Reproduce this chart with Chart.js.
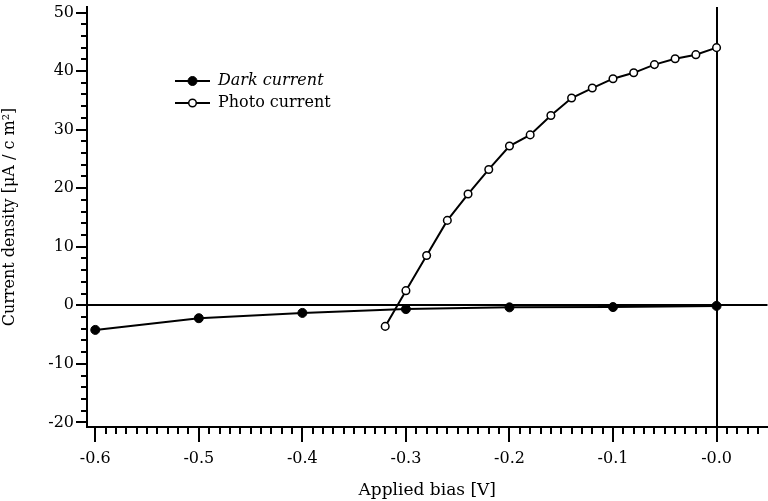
<!DOCTYPE html>
<html>
<head>
<meta charset="utf-8">
<script src="https://cdn.jsdelivr.net/npm/chart.js@4"></script>
<style>
  html, body { margin: 0; padding: 0; background: #fff; overflow: hidden; }
  #wrap { width: 768px; height: 501px; overflow: hidden; }
  canvas { display: block; }
</style>
</head>
<body>
<!-- canvas is 5px wider than the view: Chart.js keeps a small gap at the right,
     the original plot runs off the edge -->
<div id="wrap"><canvas id="ivChart" width="773" height="501"></canvas></div>
<script>
// Dark current, measured every 0.1 V
const darkBias = [-0.6, -0.5, -0.4, -0.3, -0.2, -0.1, 0.0];
const darkCurrent = [-4.2, -2.2, -1.3, -0.65, -0.35, -0.3, -0.1];

// Photo current, measured every 0.02 V
const photoBias = [-0.32, -0.30, -0.28, -0.26, -0.24, -0.22, -0.20, -0.18, -0.16,
                   -0.14, -0.12, -0.10, -0.08, -0.06, -0.04, -0.02, 0.0];
const photoCurrent = [-3.6, 2.5, 8.5, 14.5, 19.0, 23.2, 27.2, 29.1, 32.4,
                      35.4, 37.1, 38.7, 39.7, 41.1, 42.1, 42.8, 44.0];

const seriesNames = ['Dark current', 'Photo current'];

const FONT = '"DejaVu Serif", "Liberation Serif", serif';

function toPoints(xs, ys) {
    return xs.map((x, i) => ({ x: x, y: ys[i] }));
}

function isMajor(v, step) {
    const r = v / step;
    return Math.abs(r - Math.round(r)) < 1e-6;
}

// no extra room for edge labels
function noEdgePadding(s) {
    s.paddingLeft = 0;
    s.paddingRight = 0;
    s.paddingTop = 0;
    s.paddingBottom = 0;
}

// minor + major tick marks pointing outward from the axes
const tickMarks = {
    id: 'tickMarks',
    afterDraw(chart) {
        const ctx = chart.ctx;
        const xs = chart.scales.x, ys = chart.scales.y;
        ctx.save();
        ctx.strokeStyle = '#000';
        ctx.lineWidth = 2;
        ctx.beginPath();
        xs.ticks.forEach(t => {
            const px = Math.round(xs.getPixelForValue(t.value));
            const len = isMajor(t.value, 0.1) ? 15 : 7;
            ctx.moveTo(px, xs.top);
            ctx.lineTo(px, xs.top + len);
        });
        ys.ticks.forEach(t => {
            const py = Math.round(ys.getPixelForValue(t.value));
            const len = isMajor(t.value, 10) ? 11 : 6;
            ctx.moveTo(ys.right, py);
            ctx.lineTo(ys.right - len, py);
        });
        ctx.stroke();
        ctx.restore();
    }
};

// legend drawn inside the plot: line segment + marker + name
const insideLegend = {
    id: 'insideLegend',
    afterDatasetsDraw(chart) {
        const ctx = chart.ctx;
        const area = chart.chartArea;
        const x0 = area.left + 88;
        const y0 = area.top + 74;
        ctx.save();
        chart.data.datasets.forEach((ds, i) => {
            const y = y0 + i * 22;
            ctx.strokeStyle = '#000';
            ctx.lineWidth = 2;
            ctx.beginPath();
            ctx.moveTo(x0, y);
            ctx.lineTo(x0 + 35, y);
            ctx.stroke();
            ctx.beginPath();
            ctx.arc(x0 + 17.5, y, ds.pointRadius, 0, Math.PI * 2);
            ctx.fillStyle = ds.pointBackgroundColor;
            ctx.fill();
            ctx.lineWidth = ds.pointBorderWidth;
            ctx.stroke();
            ctx.fillStyle = '#000';
            ctx.font = (i === 0 ? 'italic ' : '') + '16px ' + FONT;
            ctx.textBaseline = 'middle';
            ctx.fillText(ds.label, x0 + 43, y);
        });
        ctx.restore();
    }
};

const zeroLine = ctx => (ctx.tick && Math.abs(ctx.tick.value) < 1e-9) ? '#000' : 'rgba(0,0,0,0)';

new Chart(document.getElementById('ivChart').getContext('2d'), {
    type: 'scatter',
    data: {
        datasets: [{
            label: seriesNames[0],
            data: toPoints(darkBias, darkCurrent),
            showLine: true,
            borderColor: '#000',
            borderWidth: 2,
            pointRadius: 4.5,
            pointBackgroundColor: '#000',
            pointBorderColor: '#000',
            pointBorderWidth: 1,
            tension: 0
        }, {
            label: seriesNames[1],
            data: toPoints(photoBias, photoCurrent),
            showLine: true,
            borderColor: '#000',
            borderWidth: 2,
            pointRadius: 3.8,
            pointBackgroundColor: '#fff',
            pointBorderColor: '#000',
            pointBorderWidth: 1.5,
            tension: 0
        }]
    },
    options: {
        responsive: false,
        animation: false,
        events: [],
        layout: { padding: { top: 7, right: 0, left: 0, bottom: 0 } },
        plugins: {
            legend: { display: false },
            tooltip: { enabled: false }
        },
        scales: {
            x: {
                type: 'linear',
                min: -0.608,
                max: 0.0492,
                afterFit: s => { s.height = 74; noEdgePadding(s); },
                border: { display: true, color: '#000', width: 2 },
                grid: { drawTicks: false, color: zeroLine, lineWidth: 2 },
                ticks: {
                    stepSize: 0.01,
                    autoSkip: false,
                    includeBounds: false,
                    maxRotation: 0,
                    padding: 22,
                    color: '#000',
                    font: { family: FONT, size: 16 },
                    callback: v => isMajor(v, 0.1) ? (Math.abs(v) < 1e-9 ? '-0.0' : v.toFixed(1)) : ''
                },
                title: {
                    display: true,
                    text: 'Applied bias [V]',
                    color: '#000',
                    font: { family: FONT, size: 17 },
                    padding: { top: 0, bottom: 0 }
                }
            },
            y: {
                type: 'linear',
                min: -20.78,
                max: 50.94,
                afterFit: s => { s.width = 87; noEdgePadding(s); },
                border: { display: true, color: '#000', width: 2 },
                grid: { drawTicks: false, color: zeroLine, lineWidth: 2 },
                ticks: {
                    stepSize: 2,
                    autoSkip: false,
                    includeBounds: false,
                    padding: 13,
                    color: '#000',
                    font: { family: FONT, size: 16 },
                    callback: v => isMajor(v, 10) ? String(Math.round(v)) : ''
                },
                title: {
                    display: true,
                    text: 'Current density [μA / c m²]',
                    color: '#000',
                    font: { family: FONT, size: 16 },
                    padding: { top: 0, bottom: 0 }
                }
            }
        }
    },
    plugins: [tickMarks, insideLegend]
});
</script>
</body>
</html>
